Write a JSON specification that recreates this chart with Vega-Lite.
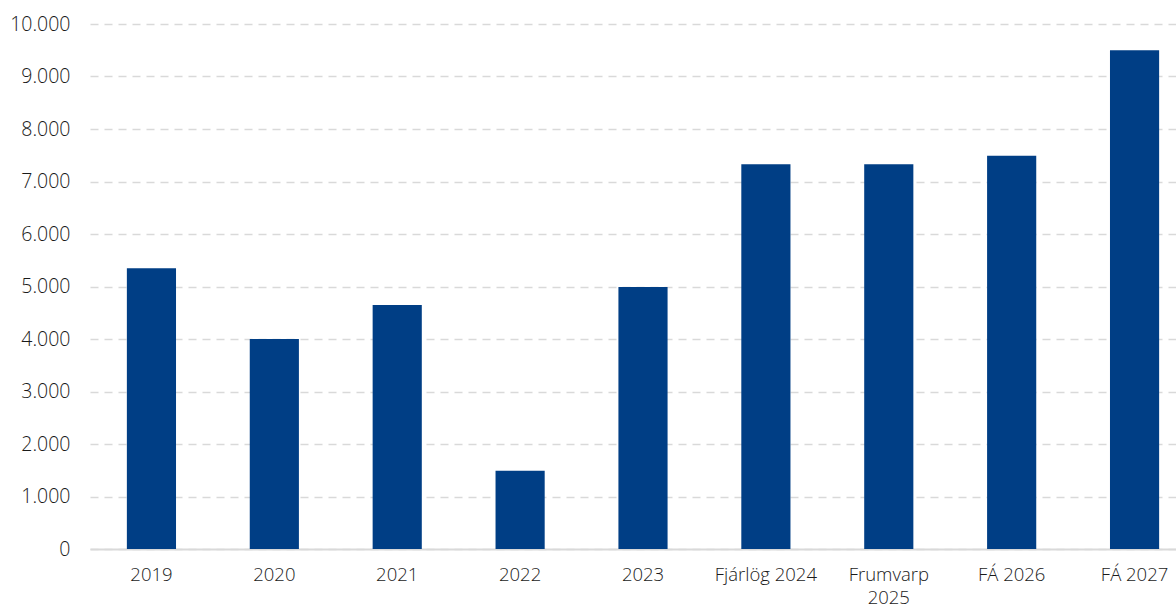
{
  "$schema": "https://vega.github.io/schema/vega-lite/v6.json",
  "autosize": "none",
  "width": 1086,
  "height": 525,
  "padding": {"left": 90, "top": 24, "right": 0, "bottom": 60},
  "background": "white",
  "config": {
    "view": {"stroke": null},
    "font": "Open Sans"
  },
  "data": {
    "values": [
      {"label": "2019", "value": 5350},
      {"label": "2020", "value": 4000},
      {"label": "2021", "value": 4650},
      {"label": "2022", "value": 1490},
      {"label": "2023", "value": 4990},
      {"label": "Fjárlög 2024", "value": 7330},
      {"label": "Frumvarp 2025", "value": 7330},
      {"label": "FÁ 2026", "value": 7490},
      {"label": "FÁ 2027", "value": 9500}
    ]
  },
  "mark": {"type": "bar", "color": "#003E85"},
  "encoding": {
    "x": {
      "field": "label",
      "type": "nominal",
      "sort": null,
      "scale": {"range": [0, 1106], "paddingInner": 0.6, "paddingOuter": 0.3},
      "axis": {
        "title": null,
        "labelAngle": 0,
        "ticks": false,
        "domainColor": "#d9d9d9",
        "domainWidth": 2,
        "labelFont": "Open Sans",
        "labelFontSize": 18.5,
        "labelFontWeight": 300,
        "labelColor": "#1a1a1a",
        "labelPadding": 16,
        "labelLineHeight": 23,
        "labelExpr": "datum.label == 'Frumvarp 2025' ? ['Frumvarp', '2025'] : datum.label"
      }
    },
    "y": {
      "field": "value",
      "type": "quantitative",
      "scale": {"domain": [0, 10000], "nice": false},
      "axis": {
        "title": null,
        "values": [0, 1000, 2000, 3000, 4000, 5000, 6000, 7000, 8000, 9000, 10000],
        "labelExpr": "replace(format(datum.value, ',d'), ',', '.')",
        "domain": false,
        "ticks": false,
        "grid": true,
        "gridColor": "#d9d9d9",
        "gridWidth": 1.5,
        "gridDash": [8, 6],
        "labelFont": "Open Sans",
        "labelFontSize": 19.5,
        "labelFontWeight": 300,
        "labelColor": "#1a1a1a",
        "labelPadding": 20
      }
    }
  }
}
